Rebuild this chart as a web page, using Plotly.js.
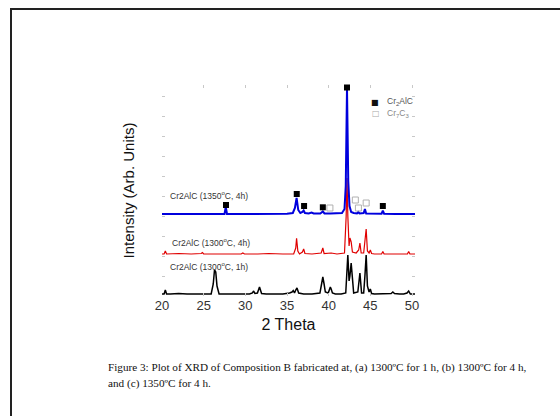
<!DOCTYPE html>
<html>
<head>
<meta charset="utf-8">
<script src="https://cdn.plot.ly/plotly-3.0.1.min.js"></script>
<style>
  html, body { margin:0; padding:0; background:#fff; }
  #wrap { position:relative; width:560px; height:416px; overflow:hidden; }
  #chart { position:absolute; left:0; top:0; width:560px; height:416px; }
  #frame { position:absolute; left:10px; top:8px; width:560px; height:420px;
           border-left:2px solid #222; border-top:2px solid #222; pointer-events:none; }
</style>
</head>
<body>
<div id="wrap"><div id="chart"></div><div id="frame"></div></div>
<script>
// ---- data (2θ in degrees, intensity in arbitrary stacked units) ----
const black1h_x = [20,20.25,20.4,20.55,21,22,23,24,25,25.9,26.15,26.3,26.45,26.6,26.85,27.5,28.5,29.5,30.5,30.85,31.0,31.15,31.45,31.7,31.95,32.5,33.5,34.5,35.3,35.6,35.75,35.9,36.05,36.2,36.4,37,38,38.95,39.15,39.3,39.45,39.6,39.95,40.2,40.3,40.45,40.8,41.5,42.05,42.3,42.45,42.55,42.7,42.85,43.0,43.5,43.75,43.95,44.2,44.35,44.5,44.65,44.85,45.0,45.15,45.5,46,46.5,47,47.5,47.7,47.9,48.5,49,49.4,49.6,49.8,50.36];
const black1h_y = [2,2,6,2,2,2.5,2,2,2.5,2,12,26,24,10,2,2,2.5,2,2,3,5,2.5,3,9,2.5,2,2,2,3,4,5.5,3,6,8,3,2,2,3,12,19,12,4,3,9,7,3,2,2,3,41,15,20,33,12,3,4,23,3,3,20,41,10,4,7,2.5,2,2,2,2,2.5,4,2.5,2,2,3,5,2,2];

const red4h_x = [20,20.25,20.4,20.55,22,23.5,24.7,24.85,25,27,28,29.5,29.7,29.9,31.5,32.8,34.5,35.8,36.05,36.15,36.3,36.5,36.85,37.0,37.15,38,39.1,39.3,39.45,40.3,41,41.9,42.1,42.2,42.3,42.45,42.55,42.7,42.85,43.3,43.6,43.75,43.9,44.2,44.35,44.5,44.65,44.85,45.0,45.15,45.5,46.35,46.5,46.65,48,49.45,49.6,49.75,50.36];
const red4h_y = [42,42,45,42,42.5,42,42.5,43.5,42,42,42.5,42,43,42,42,42.5,42,42,48,57.7,45,42,44,47,42.5,42,43,48,42.5,43,42,43,80,118,80,50,58,54,44,43,46,53,43,43,55,67,45,43,46,42.5,42,42,44.5,42,42,42,44.5,42,42];

const blue4h_x = [20,22,24,26,27.5,27.65,27.8,29,31,33,35,35.7,35.95,36.15,36.35,36.6,36.85,37.0,37.15,37.6,37.95,38.2,39.0,39.3,39.5,40.2,41,41.6,41.9,42.05,42.2,42.35,42.5,42.7,43.0,43.4,43.55,43.7,44.2,44.35,44.5,45.5,46.35,46.5,46.65,48,50.36];
const blue4h_y = [82,82,82.5,82,82,89,82,82,82,82,82.3,83,88,98,86,83,84,85.5,83,82.5,83.5,82.5,82.5,84.5,82.5,82.5,82.5,83,87,110,208,115,90,84,83,82.5,84,82.5,83,87,82.5,82,82.3,85.5,82.3,82,82];

const cr2alc_x = [27.68, 36.17, 37.05, 39.3, 42.2, 46.5];
const cr2alc_y = [91, 102, 90, 88.7, 208.5, 90];
const cr7c3_x  = [40.15, 43.2, 43.57, 44.5];
const cr7c3_y  = [88, 96, 88, 93];

const tickVals   = [20, 25, 30, 35, 40, 45, 50];
const tickText   = ['20', '25', '30', '35', '40', '45', '50'];
const seriesNames = ['Cr2AlC (1350<sup>o</sup>C, 4h)', 'Cr2AlC (1300<sup>o</sup>C, 4h)', 'Cr2AlC (1300<sup>o</sup>C, 1h)'];
const legendNames = ['Cr<sub>2</sub>AlC', 'Cr<sub>7</sub>C<sub>3</sub>'];
const captionLines = ['Figure 3: Plot of XRD of Composition B fabricated at, (a) 1300ºC for 1 h, (b) 1300ºC for 4 h,',
                      'and (c) 1350ºC for 4 h.'];

// ---- chart ----
const sans = 'Liberation Sans, Arial, sans-serif';
const serif = 'Liberation Serif, Times New Roman, serif';

const traces = [
  {x: black1h_x, y: black1h_y, type:'scatter', mode:'lines', line:{color:'#000000', width:1.5}, hoverinfo:'skip'},
  {x: red4h_x,   y: red4h_y,   type:'scatter', mode:'lines', line:{color:'#e00000', width:1.2}, hoverinfo:'skip'},
  {x: blue4h_x,  y: blue4h_y,  type:'scatter', mode:'lines', line:{color:'#0000dd', width:2}, hoverinfo:'skip'},
  {x: cr2alc_x, y: cr2alc_y, type:'scatter', mode:'markers', cliponaxis:false,
   marker:{symbol:'square', size:6, color:'#000000'}, hoverinfo:'skip'},
  {x: cr7c3_x, y: cr7c3_y, type:'scatter', mode:'markers', cliponaxis:false,
   marker:{symbol:'square-open', size:6, color:'#b0b0b0', line:{width:1}}, hoverinfo:'skip'}
];

const ann = [];
const labelPos = [[20.72, 101], [20.96, 54], [20.72, 30]];
seriesNames.forEach((t, i) => ann.push({
  x: labelPos[i][0], y: labelPos[i][1], xref:'x', yref:'y', text: t, showarrow:false,
  xanchor:'left', yanchor:'middle', font:{family:sans, size:8.5, color:'#333'}
}));
// legend (symbols + names)
ann.push({x:45.56, y:194, xref:'x', yref:'y', text:'■', showarrow:false, xanchor:'center', yanchor:'middle',
          font:{family:'DejaVu Sans', size:8, color:'#111'}});
ann.push({x:45.62, y:183, xref:'x', yref:'y', text:'□', showarrow:false, xanchor:'center', yanchor:'middle',
          font:{family:'DejaVu Sans', size:8, color:'#aaa'}});
ann.push({x:46.76, y:195, xref:'x', yref:'y', text:legendNames[0], showarrow:false, xanchor:'left', yanchor:'middle',
          font:{family:sans, size:8.5, color:'#555'}});
ann.push({x:46.76, y:183, xref:'x', yref:'y', text:legendNames[1], showarrow:false, xanchor:'left', yanchor:'middle',
          font:{family:sans, size:8.5, color:'#888'}});
// caption
ann.push({x:-0.2213, y:-0.34, xref:'paper', yref:'paper', text:captionLines[0], showarrow:false,
          xanchor:'left', yanchor:'middle', font:{family:serif, size:11.2, color:'#111'}});
ann.push({x:-0.2213, y:-0.413, xref:'paper', yref:'paper', text:captionLines[1], showarrow:false,
          xanchor:'left', yanchor:'middle', font:{family:serif, size:11.2, color:'#111'}});

const layout = {
  width:560, height:416,
  margin:{l:162, r:145, t:85, b:120, pad:0},
  paper_bgcolor:'#ffffff', plot_bgcolor:'#ffffff',
  showlegend:false,
  xaxis:{
    range:[20, 50.36], tickmode:'array', tickvals:tickVals, ticktext:tickText,
    ticks:'inside', ticklen:3, tickcolor:'#c8c8c8', mirror:'ticks',
    showline:false, showgrid:false, zeroline:false,
    tickfont:{family:sans, size:13, color:'#333'},
    title:{text:'2 Theta', font:{family:sans, size:16, color:'#111'}, standoff:6}
  },
  yaxis:{
    range:[0, 211], showticklabels:false, dtick:20,
    ticks:'inside', ticklen:3, tickcolor:'#c8c8c8', mirror:'ticks',
    showline:false, showgrid:false, zeroline:false,
    title:{text:'Intensity (Arb. Units)', font:{family:sans, size:15, color:'#111'}, standoff:22}
  },
  annotations: ann
};

Plotly.newPlot('chart', traces, layout, {displayModeBar:false, staticPlot:true});
</script>
</body>
</html>
